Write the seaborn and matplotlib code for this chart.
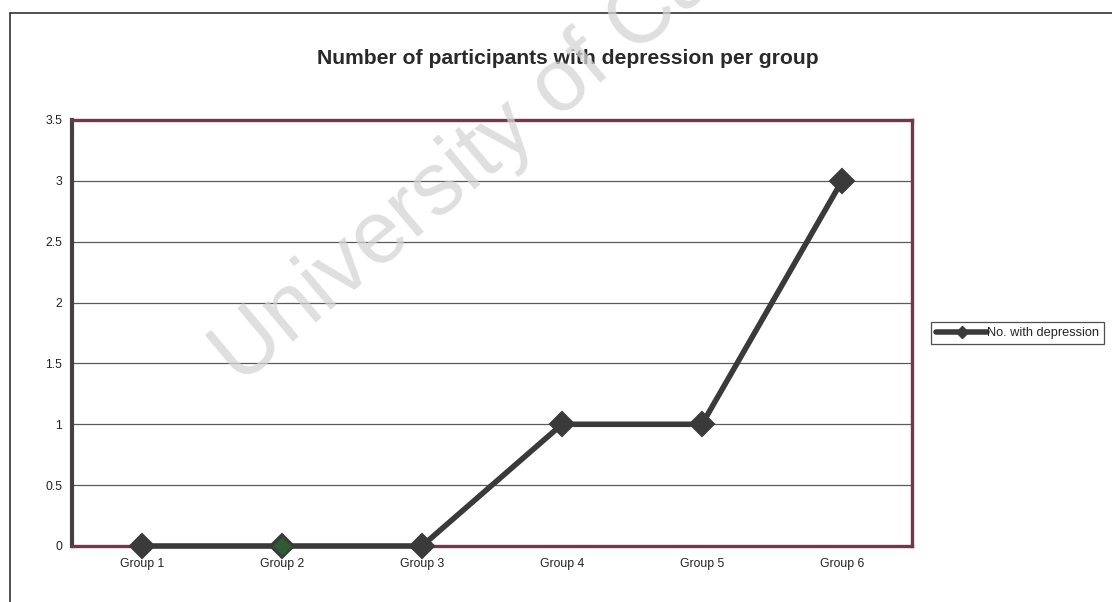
import matplotlib
matplotlib.use("Agg")
import matplotlib.pyplot as plt
import seaborn as sns
import pandas as pd
from matplotlib.lines import Line2D

# Chart data
groups = ["Group 1", "Group 2", "Group 3", "Group 4", "Group 5", "Group 6"]
counts = [0, 0, 0, 1, 1, 3]
y_ticks = [0, 0.5, 1, 1.5, 2, 2.5, 3, 3.5]
y_tick_labels = ["0", "0.5", "1", "1.5", "2", "2.5", "3", "3.5"]
series_name = "No. with depression"
title = "Number of participants with depression per group"
watermark = "University of Cape Town"
highlight_group = "Group 2"

sns.set_theme(style="white")
plt.rcParams["font.family"] = ["Liberation Sans", "DejaVu Sans"]

df = pd.DataFrame({"group": groups, "count": counts})
df["pos"] = range(len(groups))

W, H = 1112, 602
fig = plt.figure(figsize=(W / 100, H / 100), dpi=100)
fig.patch.set_facecolor("white")

# plot area
left, right, top, bottom = 72, 912, 120, 546
ax = fig.add_axes([left / W, 1 - bottom / H, (right - left) / W, (bottom - top) / H])

line_col = "#3a3a3a"
frame_col = "#6e3a4a"

ax.set_ylim(0, 3.5)
ax.set_xlim(-0.5, len(groups) - 0.5)
ax.set_yticks(y_ticks)
ax.set_yticklabels(y_tick_labels)
ax.yaxis.grid(True, color="#5a5a5a", linewidth=0.9)
ax.set_axisbelow(True)

sns.lineplot(data=df, x="pos", y="count", ax=ax, color=line_col, linewidth=4.0,
             marker="D", markersize=12, markeredgecolor=line_col,
             markeredgewidth=1.5, legend=False, zorder=5)
sub = df[df["group"] == highlight_group]
sns.scatterplot(data=sub, x="pos", y="count", ax=ax, color="#2f5a34", marker="D",
                s=95, edgecolor="#2f4a34", linewidth=1, legend=False, zorder=6)
for ln in ax.lines:
    ln.set_clip_on(False)
for coll in ax.collections:
    coll.set_clip_on(False)

# category ticks at the boundaries, labels centred on each category
ax.set_xticks([p + 0.5 for p in range(len(groups) - 1)])
ax.set_xticklabels([])
ax.set_xticks(list(range(len(groups))), minor=True)
ax.set_xticklabels(groups, minor=True)
ax.tick_params(axis="x", which="minor", length=0, pad=9, labelsize=8.8, labelcolor="#222222")
ax.tick_params(axis="x", which="major", length=4, width=1, color="#555555", direction="out")
ax.tick_params(axis="y", length=4, width=1, color="#555555", direction="out",
               pad=3, labelsize=8.8, labelcolor="#222222")
ax.set_xlabel("")
ax.set_ylabel("")

for side in ["top", "right", "bottom"]:
    ax.spines[side].set_visible(True)
    ax.spines[side].set_color(frame_col)
    ax.spines[side].set_linewidth(2.4)
ax.spines["left"].set_visible(True)
ax.spines["left"].set_color("#474040")
ax.spines["left"].set_linewidth(3.0)

# title
fig.text(568 / W, 1 - 58 / H, title, ha="center", va="center",
         fontsize=15.2, fontweight="bold", color="#2a2a2a")

# legend
handle = Line2D([], [], color=line_col, linewidth=4.0, marker="D", markersize=6,
                markeredgecolor=line_col)
leg = fig.legend([handle], [series_name], loc="center left",
                 bbox_to_anchor=(931 / W, 1 - 333 / H), fontsize=9.2,
                 frameon=True, fancybox=False, edgecolor="#222222",
                 handlelength=4.0, handletextpad=0.0, borderpad=0.4,
                 borderaxespad=0)
leg.get_frame().set_linewidth(0.9)

# outer chart border (top and left edges)
fig.add_artist(Line2D([10 / W, 1.0], [1 - 13 / H, 1 - 13 / H], color="#333333",
                      linewidth=1.2, transform=fig.transFigure))
fig.add_artist(Line2D([10 / W, 10 / W], [1 - 13 / H, 0], color="#333333",
                      linewidth=1.2, transform=fig.transFigure))

# watermark
fig.text(240 / W, 1 - 386 / H, watermark, rotation=40, rotation_mode="anchor",
         ha="left", va="baseline", fontsize=64, color="#d4d4d4", alpha=0.75, zorder=10)

fig.savefig("out.png", dpi=100, facecolor="white")
